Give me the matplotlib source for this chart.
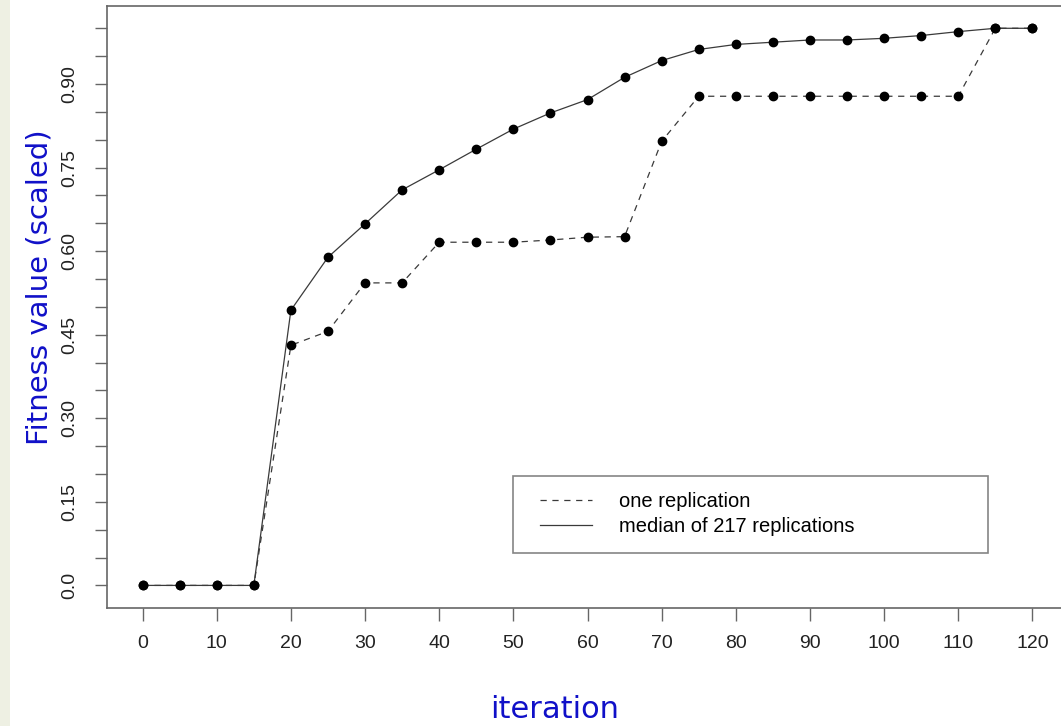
import numpy as np
import matplotlib.pyplot as plt
from matplotlib.lines import Line2D
from matplotlib.legend_handler import HandlerLine2D

iterations = [0, 5, 10, 15, 20, 25, 30, 35, 40, 45, 50, 55, 60,
              65, 70, 75, 80, 85, 90, 95, 100, 105, 110, 115, 120]
median_217 = [0.0, 0.0, 0.0, 0.0, 0.494, 0.589, 0.649, 0.710, 0.746, 0.783, 0.819, 0.848, 0.872,
              0.912, 0.942, 0.962, 0.971, 0.975, 0.979, 0.979, 0.982, 0.987, 0.994, 1.0, 1.0]
one_rep = [0.0, 0.0, 0.0, 0.0, 0.431, 0.456, 0.543, 0.543, 0.616, 0.616, 0.616, 0.620, 0.625,
           0.626, 0.797, 0.878, 0.878, 0.878, 0.878, 0.878, 0.878, 0.878, 0.878, 1.0, 1.0]

xticks = list(range(0, 121, 10))
yticks = np.round(np.arange(0, 1.0001, 0.05), 2)
ylabels = {0.0: '0.0', 0.15: '0.15', 0.3: '0.30', 0.45: '0.45', 0.6: '0.60', 0.75: '0.75', 0.9: '0.90'}


class ShiftedLine(HandlerLine2D):
    # leave some blank space before the legend line, like R does
    def create_artists(self, legend, orig_handle, xdescent, ydescent, width, height, fontsize, trans):
        shift = 0.17 * width
        return super().create_artists(legend, orig_handle, xdescent - shift, ydescent,
                                      width - shift, height, fontsize, trans)


plt.rcParams['font.family'] = ['Liberation Sans', 'DejaVu Sans']

fig = plt.figure(figsize=(10.61, 7.26), dpi=100)
fig.patch.set_facecolor('white')
# pale strip on the far left (slide background)
fig.patches.append(plt.Rectangle((0, 0), 10 / 1061, 1, transform=fig.transFigure,
                                 facecolor='#eef0e3', edgecolor='none', zorder=0))

ax = fig.add_axes([107 / 1061, 1 - 607.7 / 726, 961 / 1061, 601.7 / 726])

ax.plot(iterations, one_rep, color='#3a3a3a', lw=0.9, dashes=(5, 4.5))
ax.plot(iterations, median_217, color='#3a3a3a', lw=0.9)
ax.plot(iterations, one_rep, 'o', color='black', ms=6)
ax.plot(iterations, median_217, 'o', color='black', ms=6)

ax.set_xlim(-4.8, 124.8)
ax.set_ylim(-0.04, 1.04)

ax.set_xticks(xticks)
ax.set_xticklabels([str(t) for t in xticks])
ax.set_yticks(yticks)
ax.set_yticklabels([ylabels.get(round(v, 2), '') for v in yticks], rotation=90, va='center')

for s in ax.spines.values():
    s.set_color('#666666')
    s.set_linewidth(1.2)
ax.tick_params(axis='both', colors='#666666', labelcolor='#222222', length=9, width=1.0, labelsize=14)
ax.tick_params(axis='x', pad=11)
ax.tick_params(axis='y', pad=12)

fig.text(555 / 1061, 1 - 710 / 726, 'iteration', color='#1010c8', fontsize=22,
         family=['DejaVu Sans'], ha='center', va='center')
fig.text(40 / 1061, 1 - 287 / 726, 'Fitness value (scaled)', color='#1010c8', fontsize=21,
         family=['DejaVu Sans'], ha='center', va='center', rotation=90)

handles = [Line2D([], [], color='#3a3a3a', lw=0.9, dashes=(5, 4.5)),
           Line2D([], [], color='#3a3a3a', lw=0.9)]
leg = ax.legend(handles, ['one replication', 'median of 217 replications'],
                loc='lower left', bbox_to_anchor=(0.4225, 0.0909, 0.4943, 0.1313), mode='expand',
                fontsize=14.5, frameon=True, fancybox=False, borderpad=0.82, labelspacing=0.3,
                handlelength=3.1, handletextpad=1.34, borderaxespad=0,
                handler_map={Line2D: ShiftedLine()})
leg.get_frame().set_edgecolor('#666666')
leg.get_frame().set_linewidth(1.2)

fig.savefig('out.png', dpi=100)
